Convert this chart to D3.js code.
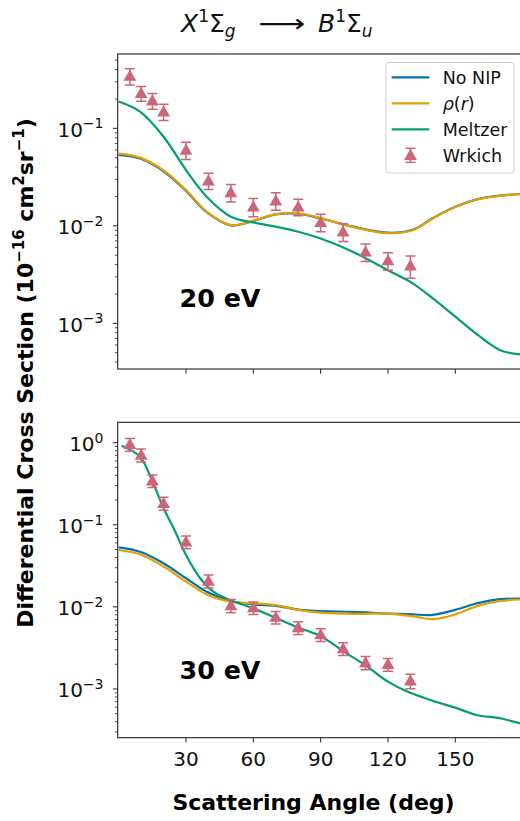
<!DOCTYPE html>
<html>
<head>
<meta charset="utf-8">
<script src="https://cdn.jsdelivr.net/npm/d3@7"></script>
<style>
  body { margin: 0; background: #fff; }
  svg { font-family: "DejaVu Sans", sans-serif; }
</style>
</head>
<body>
<div id="chart"></div>
<script>
// data
const expAngles = [5, 10, 15, 20, 30, 40, 50, 60, 70, 80, 90, 100, 110, 120, 130];

const exp20 = [0.343, 0.229, 0.192, 0.148, 0.060, 0.029, 0.022, 0.0157, 0.0181, 0.0157, 0.0109, 0.0087, 0.0054, 0.0044, 0.0039];
const err20 = [0.065, 0.040, 0.035, 0.028, 0.012, 0.0055, 0.0045, 0.0033, 0.0037, 0.0030, 0.0022, 0.0018, 0.0011, 0.0009, 0.0010];

const exp30 = [0.955, 0.71, 0.344, 0.183, 0.062, 0.0207, 0.0104, 0.0098, 0.0075, 0.0056, 0.0046, 0.0031, 0.0021, 0.0020, 0.00126];
const err30 = [0.17, 0.13, 0.06, 0.033, 0.011, 0.0037, 0.0019, 0.0017, 0.0013, 0.0010, 0.0008, 0.00055, 0.00038, 0.00035, 0.00025];

const curveAngles = [0, 9.5, 20, 30, 39.2, 50, 60, 70, 80, 90, 104.5, 120, 131, 140, 150, 160, 170, 179];

const noNip20  = [0.0535, 0.0490, 0.0362, 0.0228, 0.0138, 0.0101, 0.0112, 0.0131, 0.0133, 0.0119, 0.0098, 0.0085, 0.0091, 0.0120, 0.0157, 0.0188, 0.0204, 0.0212];
const rho20    = [0.0550, 0.0500, 0.0370, 0.0233, 0.0140, 0.0102, 0.0113, 0.0132, 0.0134, 0.0120, 0.0097, 0.0084, 0.0090, 0.0119, 0.0156, 0.0187, 0.0203, 0.0211];
const meltzer20 = [0.188, 0.148, 0.082, 0.0373, 0.0199, 0.0124, 0.0108, 0.0098, 0.0087, 0.0074, 0.0054, 0.0035, 0.00257, 0.0018, 0.00117, 0.00076, 0.00053, 0.00048];

const noNip30  = [0.0532, 0.0470, 0.0340, 0.0223, 0.0153, 0.0118, 0.0107, 0.0103, 0.0093, 0.0089, 0.0087, 0.0083, 0.0081, 0.0080, 0.0092, 0.0111, 0.0124, 0.0126];
const rho30    = [0.0493, 0.0437, 0.0310, 0.0203, 0.0142, 0.0116, 0.0111, 0.0105, 0.0092, 0.0085, 0.0082, 0.0083, 0.0077, 0.0071, 0.0081, 0.0103, 0.0118, 0.0123];
const meltzerAngles30 = [1.3, 9.5, 15.1, 20, 24.5, 30, 36.3, 42.2, 49.6, 60, 70.4, 80.8, 90, 100.4, 110.8, 120, 128.6, 140.2, 150, 159.5, 170, 178.8];
const meltzer30 = [0.92, 0.676, 0.335, 0.159, 0.0906, 0.0428, 0.0223, 0.0153, 0.0121, 0.0096, 0.00726, 0.0055, 0.0044, 0.00285, 0.00187, 0.00123, 0.00093, 0.000714, 0.000592, 0.000482, 0.00044, 0.00038];

const xTicks = [30, 60, 90, 120, 150];
const seriesNames = ["No NIP", "\u03c1(r)", "Meltzer", "Wrkich"];
const colors = {noNip: "#0173b2", rho: "#e69f00", meltzer: "#029e73", exp: "#cc6677"};

const W = 520, H = 821;
const svg = d3.select("#chart").append("svg")
    .attr("width", W).attr("height", H);

const x = d3.scaleLinear().domain([0, 180]).range([118.7, 522.6]);
const left = 117.7, right = 522;

function drawPanel(top, bottom, yDomain, exp, err, lines, label, labelY, showXLabels, id) {
  const y = d3.scaleLog().domain(yDomain).range([bottom, top]);
  const g = svg.append("g");

  g.append("clipPath").attr("id", id)
    .append("rect").attr("x", left).attr("y", top).attr("width", right - left).attr("height", bottom - top);

  // y ticks (major + minor)
  const lo = Math.floor(Math.log10(yDomain[0])), hi = Math.ceil(Math.log10(yDomain[1]));
  const minors = [];
  const majors = [];
  for (let e = lo; e <= hi; e++) {
    const v = Math.pow(10, e);
    if (v >= yDomain[0] && v <= yDomain[1]) majors.push(e);
    for (let k = 2; k <= 9; k++) {
      const m = k * v;
      if (m >= yDomain[0] && m <= yDomain[1]) minors.push(m);
    }
  }
  g.selectAll(".minor").data(minors).enter().append("line")
    .attr("x1", left - 2.8).attr("x2", left)
    .attr("y1", d => y(d)).attr("y2", d => y(d))
    .attr("stroke", "#222").attr("stroke-width", 0.8);
  g.selectAll(".major").data(majors).enter().append("line")
    .attr("x1", left - 4.8).attr("x2", left)
    .attr("y1", d => y(Math.pow(10, d))).attr("y2", d => y(Math.pow(10, d)))
    .attr("stroke", "#222").attr("stroke-width", 1);
  majors.forEach(e => {
    const t = g.append("text")
      .attr("x", 103.5).attr("y", y(Math.pow(10, e)) + 8.5)
      .attr("text-anchor", "end").attr("font-size", "20px").attr("fill", "#111");
    t.append("tspan").text("10");
    t.append("tspan").attr("dy", -8.5).attr("font-size", "14px")
      .text(e === 0 ? "0" : "\u2212" + Math.abs(e));
  });

  // x ticks
  g.selectAll(".xt").data(xTicks).enter().append("line")
    .attr("x1", d => x(d)).attr("x2", d => x(d))
    .attr("y1", bottom).attr("y2", bottom + 4.8)
    .attr("stroke", "#222").attr("stroke-width", 1);
  if (showXLabels) {
    g.selectAll(".xl").data(xTicks).enter().append("text")
      .attr("x", d => x(d)).attr("y", bottom + 28.5)
      .attr("text-anchor", "middle").attr("font-size", "20px").attr("fill", "#111")
      .text(d => d);
  }

  // curves
  const cg = g.append("g").attr("clip-path", `url(#${id})`);
  lines.forEach(l => {
    const pts = l.xs.map((a, i) => [a, l.ys[i]]);
    cg.append("path").datum(pts)
      .attr("fill", "none").attr("stroke", l.color).attr("stroke-width", 2.2)
      .attr("d", d3.line().x(d => x(d[0])).y(d => y(d[1])).curve(d3.curveCatmullRom.alpha(0.5)));
  });

  // experiment with error bars
  const pg = cg.append("g");
  expAngles.forEach((a, i) => {
    const cx = x(a);
    const y0 = y(exp[i] - err[i]), y1 = y(exp[i] + err[i]);
    pg.append("line").attr("x1", cx).attr("x2", cx).attr("y1", y0).attr("y2", y1)
      .attr("stroke", colors.exp).attr("stroke-width", 1.5);
    [y0, y1].forEach(yy => pg.append("line")
      .attr("x1", cx - 5).attr("x2", cx + 5).attr("y1", yy).attr("y2", yy)
      .attr("stroke", colors.exp).attr("stroke-width", 1.5));
    pg.append("path")
      .attr("d", d3.symbol().type(d3.symbolTriangle).size(72)())
      .attr("transform", `translate(${cx},${y(exp[i]) + 1})`)
      .attr("fill", colors.exp);
  });

  // frame
  g.append("rect").attr("x", left).attr("y", top).attr("width", right - left).attr("height", bottom - top)
    .attr("fill", "none").attr("stroke", "#222").attr("stroke-width", 1.1);

  g.append("text").attr("x", 179.5).attr("y", labelY)
    .attr("font-size", "24px").attr("font-weight", "bold")
    .attr("textLength", 81).attr("lengthAdjust", "spacingAndGlyphs")
    .text(label);
  return y;
}

drawPanel(54, 369, [3.4e-4, 0.578], exp20, err20, [
  {xs: curveAngles, ys: noNip20, color: colors.noNip},
  {xs: curveAngles, ys: rho20, color: colors.rho},
  {xs: curveAngles, ys: meltzer20, color: colors.meltzer}
], "20 eV", 306.7, false, "clipTop");

drawPanel(422.3, 737.7, [2.55e-4, 1.772], exp30, err30, [
  {xs: curveAngles, ys: noNip30, color: colors.noNip},
  {xs: curveAngles, ys: rho30, color: colors.rho},
  {xs: meltzerAngles30, ys: meltzer30, color: colors.meltzer}
], "30 eV", 679, true, "clipBot");

// legend
const lg = svg.append("g");
lg.append("rect").attr("x", 386).attr("y", 62.5).attr("width", 128).attr("height", 110.5)
  .attr("rx", 3).attr("fill", "#fff").attr("fill-opacity", 0.85)
  .attr("stroke", "#d0d0d0").attr("stroke-width", 1);
const legColors = [colors.noNip, colors.rho, colors.meltzer, colors.exp];
seriesNames.forEach((n, i) => {
  const ly = 77.3 + i * 26;
  if (i < 3) {
    lg.append("line").attr("x1", 391.7).attr("x2", 429.3).attr("y1", ly).attr("y2", ly)
      .attr("stroke", legColors[i]).attr("stroke-width", 2.2);
  } else {
    lg.append("line").attr("x1", 410.5).attr("x2", 410.5).attr("y1", ly - 7).attr("y2", ly + 7)
      .attr("stroke", colors.exp).attr("stroke-width", 1.5);
    [ly - 7, ly + 7].forEach(yy => lg.append("line").attr("x1", 405.5).attr("x2", 415.5)
      .attr("y1", yy).attr("y2", yy).attr("stroke", colors.exp).attr("stroke-width", 1.5));
    lg.append("path").attr("d", d3.symbol().type(d3.symbolTriangle).size(72)())
      .attr("transform", `translate(410.5,${ly + 1})`).attr("fill", colors.exp);
  }
  const t = lg.append("text").attr("x", 442.7).attr("y", ly + 6.3).attr("font-size", "17.5px").attr("fill", "#111");
  if (i === 1) {
    t.append("tspan").attr("font-style", "italic").text("\u03c1");
    t.append("tspan").text("(");
    t.append("tspan").attr("font-style", "italic").text("r");
    t.append("tspan").text(")");
  } else {
    t.text(n);
  }
});

// title, in three pieces as mathtext lays it out
function stateLabel(x0, letter, sub) {
  const t = svg.append("text").attr("x", x0).attr("y", 31.5)
    .attr("font-size", "25px").attr("fill", "#111");
  t.append("tspan").attr("font-style", "italic").text(letter);
  t.append("tspan").attr("dy", -10).attr("font-size", "17px").text("1");
  t.append("tspan").attr("dy", 10).text("\u03a3");
  t.append("tspan").attr("dy", 5).attr("font-size", "17px").attr("font-style", "italic").text(sub);
}
stateLabel(181, "X", "g");
stateLabel(318, "B", "u");
svg.append("text").attr("x", 258).attr("y", 31.5)
  .attr("font-size", "25px").attr("fill", "#111")
  .attr("textLength", 47).attr("lengthAdjust", "spacingAndGlyphs")
  .text("\u27f6");

// axis labels
svg.append("text").attr("x", 313.5).attr("y", 810)
  .attr("text-anchor", "middle").attr("font-size", "22px").attr("font-weight", "bold")
  .text("Scattering Angle (deg)");

const yl = svg.append("text")
  .attr("transform", "translate(33,373) rotate(-90)")
  .attr("text-anchor", "middle").attr("font-size", "22px").attr("font-weight", "bold");
yl.append("tspan").text("Differential Cross Section (10");
yl.append("tspan").attr("dy", -9).attr("font-size", "15px").text("\u221216");
yl.append("tspan").attr("dy", 9).text(" cm");
yl.append("tspan").attr("dy", -9).attr("font-size", "15px").text("2");
yl.append("tspan").attr("dy", 9).text("sr");
yl.append("tspan").attr("dy", -9).attr("font-size", "15px").text("\u22121");
yl.append("tspan").attr("dy", 9).text(")");
</script>
</body>
</html>
